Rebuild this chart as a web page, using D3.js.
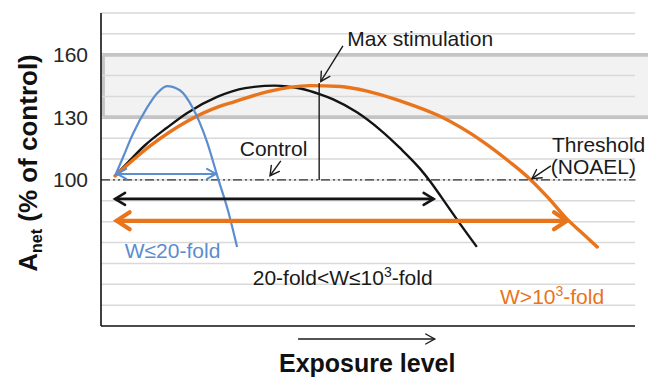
<!DOCTYPE html>
<html>
<head>
<meta charset="utf-8">
<script src="https://cdn.jsdelivr.net/npm/d3@7"></script>
<style>
  body { margin: 0; background: #fff; }
  svg { display: block; }
  text { font-family: "Liberation Sans", Arial, sans-serif; fill: #1a1a1a; }
</style>
</head>
<body>
<div class="chart"></div>
<script>
var width = 648,
    height = 378;

// y ticks shown and gridlines
var tickLabels = [100, 130, 160];
var gridValues = [40, 50, 60, 70, 80, 90, 100, 110, 120, 130, 140, 150, 160, 170, 180];
var stimBand = [130, 160];

// curves: [exposure (arbitrary units), Anet %]
var blueCurve = [[2.6, 101.9], [4.1, 111.0], [5.9, 122.0], [8.5, 134.5], [10.4, 141.5], [12.2, 145.0],
    [14.6, 143.0], [17.0, 134.5], [19.6, 118.5], [21.7, 100.5], [23.5, 85.5], [25.2, 67.9]];
var blackCurve = [[2.6, 101.9], [5.4, 109.5], [8.1, 116.5], [12.2, 125.0], [15.9, 132.0], [21.5, 139.8],
    [26.7, 144.0], [32.2, 145.2], [36.9, 143.8], [40.6, 141.0], [43.0, 138.6], [47.4, 132.4],
    [51.7, 124.0], [55.4, 115.2], [59.1, 105.3], [60.9, 99.5], [63.1, 91.5], [66.1, 80.4], [69.6, 67.9]];
var orangeCurve = [[2.6, 101.9], [9.1, 116.3], [15.9, 128.0], [21.7, 135.0], [24.4, 137.2], [30.7, 142.2],
    [38.7, 145.2], [44.3, 144.8], [49.3, 142.6], [55.4, 137.9], [62.8, 130.5], [70.7, 118.4],
    [75.7, 108.6], [79.4, 100.5], [82.8, 91.5], [86.3, 81.2], [89.1, 74.6], [91.9, 67.9]];

// width ranges (double arrows): start, end, level
var ranges = [
    { name: "blue", x0: 3.0, x1: 21.3, y: 102.9 },
    { name: "black", x0: 2.6, x1: 61.6, y: 90.9 },
    { name: "orange", x0: 2.9, x1: 86.3, y: 80.4 }
];

var colors = { blue: "#5b8dcf", black: "#141414", orange: "#e8741c" };

var svg = d3.select(".chart").append("svg")
    .attr("width", width)
    .attr("height", height);

var margin = { top: 13, right: 7, bottom: 52, left: 101 };

var x = d3.scaleLinear()
    .domain([0, 100])
    .range([margin.left, width - margin.right]);

var y = d3.scaleLinear()
    .domain([30, 180])
    .range([height - margin.bottom, margin.top]);

// arrow markers (open V)
var defs = svg.append("defs");
function addMarker(id, len, half, color, sw) {
    defs.append("marker")
        .attr("id", id)
        .attr("markerUnits", "userSpaceOnUse")
        .attr("viewBox", "-30 -30 60 60")
        .attr("markerWidth", 60)
        .attr("markerHeight", 60)
        .attr("refX", 0)
        .attr("refY", 0)
        .attr("orient", "auto-start-reverse")
        .append("path")
        .attr("d", "M" + (-len) + "," + (-half) + "L0,0L" + (-len) + "," + half)
        .attr("fill", "none")
        .attr("stroke", color)
        .attr("stroke-width", sw)
        .attr("stroke-linecap", "round")
        .attr("stroke-linejoin", "miter");
}
addMarker("head-blue", 9, 5, colors.blue, 2);
addMarker("head-black", 10, 6, colors.black, 2.6);
addMarker("head-orange", 13, 8.5, colors.orange, 4.2);
addMarker("head-thin", 9, 5, "#1a1a1a", 1.4);

// stimulation band
svg.append("rect")
    .attr("x", x(0.4))
    .attr("y", y(stimBand[1]))
    .attr("width", width - x(0.4) + 4)
    .attr("height", y(stimBand[0]) - y(stimBand[1]))
    .attr("fill", "#f2f2f2")
    .attr("stroke", "#c4c4c4")
    .attr("stroke-width", 3.5);

// gridlines
svg.append("g").selectAll("line")
    .data(gridValues)
    .enter().append("line")
    .attr("x1", x(0))
    .attr("x2", x(100) - 6)
    .attr("y1", function(d) { return y(d); })
    .attr("y2", function(d) { return y(d); })
    .attr("stroke", "#d9d9d9")
    .attr("stroke-width", 1.5);

// redraw band edges over gridlines
svg.append("g").selectAll("line")
    .data(stimBand)
    .enter().append("line")
    .attr("x1", x(0.4))
    .attr("x2", width)
    .attr("y1", function(d) { return y(d); })
    .attr("y2", function(d) { return y(d); })
    .attr("stroke", "#c4c4c4")
    .attr("stroke-width", 3.5);

// control line (dash-dot-dot)
svg.append("line")
    .attr("x1", x(0))
    .attr("x2", x(99))
    .attr("y1", y(100))
    .attr("y2", y(100))
    .attr("stroke", "#333")
    .attr("stroke-width", 1.3)
    .attr("stroke-dasharray", "9,3,2,3,2,3");

// axes lines
svg.append("line")
    .attr("x1", x(0)).attr("x2", x(0))
    .attr("y1", y(180)).attr("y2", y(30))
    .attr("stroke", "#111").attr("stroke-width", 1.6);
svg.append("line")
    .attr("x1", x(0)).attr("x2", x(100) - 6)
    .attr("y1", y(30)).attr("y2", y(30))
    .attr("stroke", "#111").attr("stroke-width", 1.6);

// tick labels
svg.append("g").selectAll("text")
    .data(tickLabels)
    .enter().append("text")
    .attr("x", x(0) - 13)
    .attr("y", function(d) { return y(d); })
    .attr("dy", "0.36em")
    .attr("text-anchor", "end")
    .style("font-size", "21px")
    .style("fill", "#262626")
    .text(function(d) { return d; });

// curves
var line = d3.line()
    .x(function(d) { return x(d[0]); })
    .y(function(d) { return y(d[1]); })
    .curve(d3.curveMonotoneX);

svg.append("path").datum(blackCurve)
    .attr("d", line).attr("fill", "none")
    .attr("stroke", colors.black).attr("stroke-width", 2.4);
svg.append("path").datum(orangeCurve)
    .attr("d", line).attr("fill", "none")
    .attr("stroke", colors.orange).attr("stroke-width", 3.4)
    .attr("stroke-linecap", "round");
svg.append("path").datum(blueCurve)
    .attr("d", line).attr("fill", "none")
    .attr("stroke", colors.blue).attr("stroke-width", 2.2);

// double arrows
var rangeWidth = { blue: 2, black: 2.8, orange: 4.2 };
svg.append("g").selectAll("line")
    .data(ranges)
    .enter().append("line")
    .attr("x1", function(d) { return x(d.x0); })
    .attr("x2", function(d) { return x(d.x1); })
    .attr("y1", function(d) { return y(d.y); })
    .attr("y2", function(d) { return y(d.y); })
    .attr("stroke", function(d) { return colors[d.name]; })
    .attr("stroke-width", function(d) { return rangeWidth[d.name]; })
    .attr("marker-start", function(d) { return "url(#head-" + d.name + ")"; })
    .attr("marker-end", function(d) { return "url(#head-" + d.name + ")"; });

// max stimulation marker
svg.append("line")
    .attr("x1", x(40.4)).attr("x2", x(40.4))
    .attr("y1", y(146.5)).attr("y2", y(100))
    .attr("stroke", "#1a1a1a").attr("stroke-width", 1.4);

// pointer arrows
var pointers = [
    [[44.8, 164.2], [40.7, 147.2]],
    [[33.3, 109.1], [31.3, 102.0]],
    [[83.3, 106.7], [79.8, 100.6]]
];
svg.append("g").selectAll("line")
    .data(pointers)
    .enter().append("line")
    .attr("x1", function(d) { return x(d[0][0]); })
    .attr("y1", function(d) { return y(d[0][1]); })
    .attr("x2", function(d) { return x(d[1][0]); })
    .attr("y2", function(d) { return y(d[1][1]); })
    .attr("stroke", "#1a1a1a").attr("stroke-width", 1.4)
    .attr("marker-end", "url(#head-thin)");

// annotation text
function label(ux, vy, color) {
    return svg.append("text")
        .attr("x", x(ux))
        .attr("y", y(vy))
        .style("font-size", "21px")
        .style("fill", color || "#1a1a1a");
}
label(45.6, 164.4).text("Max stimulation");
label(25.7, 111.5).text("Control");
label(83.5, 113.4).text("Threshold");
label(83.3, 102.9).text("(NOAEL)");
label(4.4, 62.6, colors.blue).text("W≤20-fold");

var t2 = label(28.1, 49.7);
t2.append("tspan").text("20-fold<W≤10");
t2.append("tspan").attr("dy", -8).style("font-size", "14px").text("3");
t2.append("tspan").attr("dy", 8).text("-fold");

var t3 = label(73.9, 40.6, colors.orange);
t3.append("tspan").text("W>10");
t3.append("tspan").attr("dy", -8).style("font-size", "14px").text("3");
t3.append("tspan").attr("dy", 8).text("-fold");

// x axis label with arrow
svg.append("line")
    .attr("x1", x(36.5)).attr("x2", x(61.8))
    .attr("y1", 339).attr("y2", 339)
    .attr("stroke", "#1a1a1a").attr("stroke-width", 1.4)
    .attr("marker-end", "url(#head-thin)");

svg.append("text")
    .attr("x", x(49.3))
    .attr("y", 372)
    .attr("text-anchor", "middle")
    .style("font-size", "25px")
    .style("font-weight", "bold")
    .style("fill", "#111")
    .text("Exposure level");

// y axis label
var yl = svg.append("text")
    .attr("transform", "translate(37,163) rotate(-90)")
    .attr("text-anchor", "middle")
    .style("font-size", "26px")
    .style("font-weight", "bold")
    .style("fill", "#111");
yl.append("tspan").text("A");
yl.append("tspan").attr("dy", 5).style("font-size", "16px").text("net");
yl.append("tspan").attr("dy", -5).text(" (% of control)");
</script>
</body>
</html>
